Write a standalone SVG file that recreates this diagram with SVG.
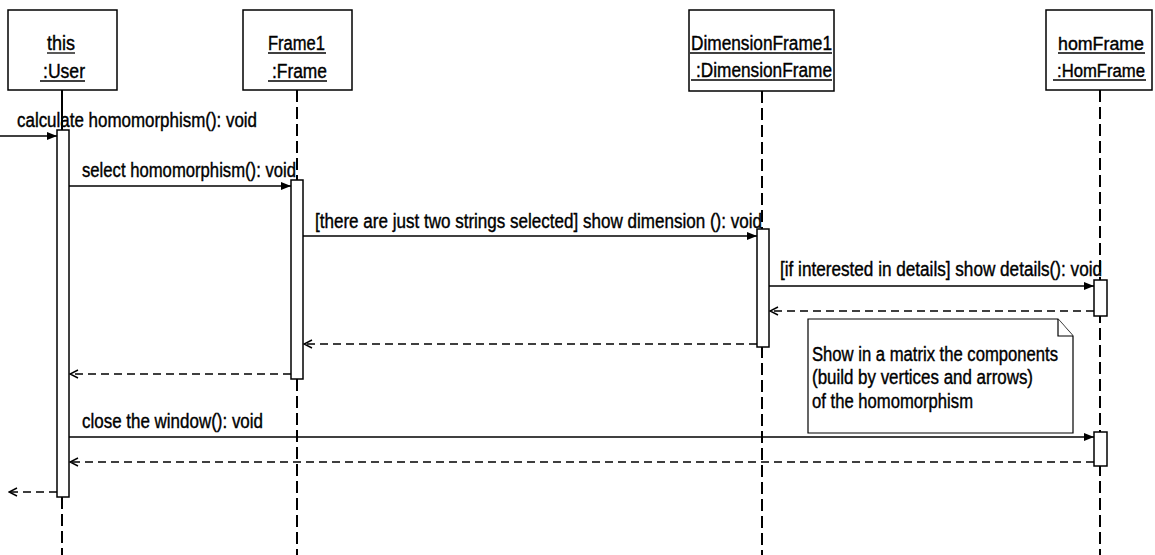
<svg xmlns="http://www.w3.org/2000/svg" width="1155" height="555" viewBox="0 0 1155 555">
  <defs>
    <marker id="sync" viewBox="0 0 10 10" refX="10" refY="5" markerWidth="10" markerHeight="10" markerUnits="userSpaceOnUse" orient="auto">
      <path d="M0,1 L10,5 L0,9 Z" fill="#000"/>
    </marker>
    <marker id="ret" viewBox="0 0 10 10" refX="9" refY="5" markerWidth="10" markerHeight="10" markerUnits="userSpaceOnUse" orient="auto">
      <path d="M1,1 L9,5 L1,9" fill="none" stroke="#000" stroke-width="1.4"/>
    </marker>
  </defs>
  <style>
    text { font-family: "Liberation Sans", Arial, sans-serif; font-size: 20px; fill: #000; stroke: #000; stroke-width: 0.4; }
    .narrow { font-size: 18px; }
    .box { fill: #fff; stroke: #000; stroke-width: 1.5; }
    .ul { stroke: #000; stroke-width: 1.3; }
    .life { stroke: #000; stroke-width: 2; stroke-dasharray: 12 5; fill: none; }
    .stem { stroke: #000; stroke-width: 2; }
    .act { fill: #fff; stroke: #000; stroke-width: 1.5; }
    .call { stroke: #000; stroke-width: 1.4; fill: none; marker-end: url(#sync); }
    .reply { stroke: #000; stroke-width: 1.3; stroke-dasharray: 8 5; fill: none; marker-end: url(#ret); }
    .note { fill: #fff; stroke: #000; stroke-width: 1.2; }
  </style>

  <!-- lifelines -->
  <g id="lifelines">
    <line class="stem" x1="62" y1="90" x2="62" y2="130"/>
    <line class="life" x1="62" y1="497" x2="62" y2="555"/>
    <line class="life" x1="297" y1="90" x2="297" y2="555"/>
    <line class="life" x1="762" y1="91" x2="762" y2="555"/>
    <line class="life" x1="1100" y1="90" x2="1100" y2="555"/>
  </g>

  <!-- participants -->
  <g id="user">
    <rect class="box" x="8" y="10" width="109" height="80"/>
    <text x="47" y="50" textLength="28" lengthAdjust="spacingAndGlyphs">this</text>
    <line class="ul" x1="47" y1="53" x2="75" y2="53"/>
    <text x="43" y="78" textLength="42" lengthAdjust="spacingAndGlyphs">:User</text>
    <line class="ul" x1="40" y1="81" x2="85" y2="81"/>
    <rect class="act" x="57" y="130" width="12" height="367"/>
  </g>

  <g id="frame1">
    <rect class="box" x="243" y="10" width="109" height="80"/>
    <text x="268" y="50" textLength="57" lengthAdjust="spacingAndGlyphs">Frame1</text>
    <line class="ul" x1="268" y1="53" x2="326" y2="53"/>
    <text x="272" y="78" textLength="55" lengthAdjust="spacingAndGlyphs">:Frame</text>
    <line class="ul" x1="268" y1="81" x2="327" y2="81"/>
    <rect class="act" x="291" y="180" width="12" height="199"/>
  </g>

  <g id="dimensionFrame1">
    <rect class="box" x="689" y="10" width="145" height="81"/>
    <text x="691" y="50" textLength="141" lengthAdjust="spacingAndGlyphs">DimensionFrame1</text>
    <line class="ul" x1="690" y1="53" x2="832" y2="53"/>
    <text x="696" y="77" textLength="136" lengthAdjust="spacingAndGlyphs">:DimensionFrame</text>
    <line class="ul" x1="691" y1="80" x2="832" y2="80"/>
    <rect class="act" x="757" y="229" width="12" height="118"/>
  </g>

  <g id="homFrame">
    <rect class="box" x="1046" y="10" width="106" height="80"/>
    <text class="narrow" x="1058" y="50" textLength="86" lengthAdjust="spacingAndGlyphs">homFrame</text>
    <line class="ul" x1="1058" y1="53" x2="1145" y2="53"/>
    <text class="narrow" x="1057" y="77" textLength="88" lengthAdjust="spacingAndGlyphs">:HomFrame</text>
    <line class="ul" x1="1053" y1="80" x2="1146" y2="80"/>
    <rect class="act" x="1094" y="280" width="13" height="36"/>
    <rect class="act" x="1094" y="432" width="13" height="34"/>
  </g>

  <!-- note -->
  <g id="note">
    <path class="note" d="M808,319 L1058,319 L1073,336 L1073,433 L808,433 Z"/>
    <path class="note" d="M1058,319 L1058,336 L1073,336" fill="none"/>
    <text x="812" y="361" textLength="246" lengthAdjust="spacingAndGlyphs">Show in a matrix the components</text>
    <text x="812" y="384" textLength="221" lengthAdjust="spacingAndGlyphs">(build by vertices and arrows)</text>
    <text x="812" y="408" textLength="161" lengthAdjust="spacingAndGlyphs">of the homomorphism</text>
  </g>

  <!-- messages -->
  <g id="connectors">
    <line class="call" x1="0" y1="136" x2="57" y2="136"/>
    <line class="call" x1="69" y1="186" x2="291" y2="186"/>
    <line class="call" x1="303" y1="236" x2="757" y2="236"/>
    <line class="call" x1="769" y1="286" x2="1094" y2="286"/>
    <line class="reply" x1="1094" y1="311" x2="770" y2="311"/>
    <line class="reply" x1="757" y1="344" x2="304" y2="344"/>
    <line class="reply" x1="291" y1="374" x2="70" y2="374"/>
    <line class="call" x1="69" y1="437" x2="1094" y2="437"/>
    <line class="reply" x1="1094" y1="462" x2="70" y2="462"/>
    <line class="reply" x1="57" y1="492" x2="9" y2="492"/>
  </g>

  <g id="labels">
    <text x="17" y="127" textLength="240" lengthAdjust="spacingAndGlyphs">calculate homomorphism(): void</text>
    <text x="82" y="177" textLength="214" lengthAdjust="spacingAndGlyphs">select homomorphism(): void</text>
    <text x="315" y="228" textLength="447" lengthAdjust="spacingAndGlyphs">[there are just two strings selected] show dimension (): void</text>
    <text x="780" y="276" textLength="322" lengthAdjust="spacingAndGlyphs">[if interested in details] show details(): void</text>
    <text x="82" y="428" textLength="181" lengthAdjust="spacingAndGlyphs">close the window(): void</text>
  </g>
</svg>
